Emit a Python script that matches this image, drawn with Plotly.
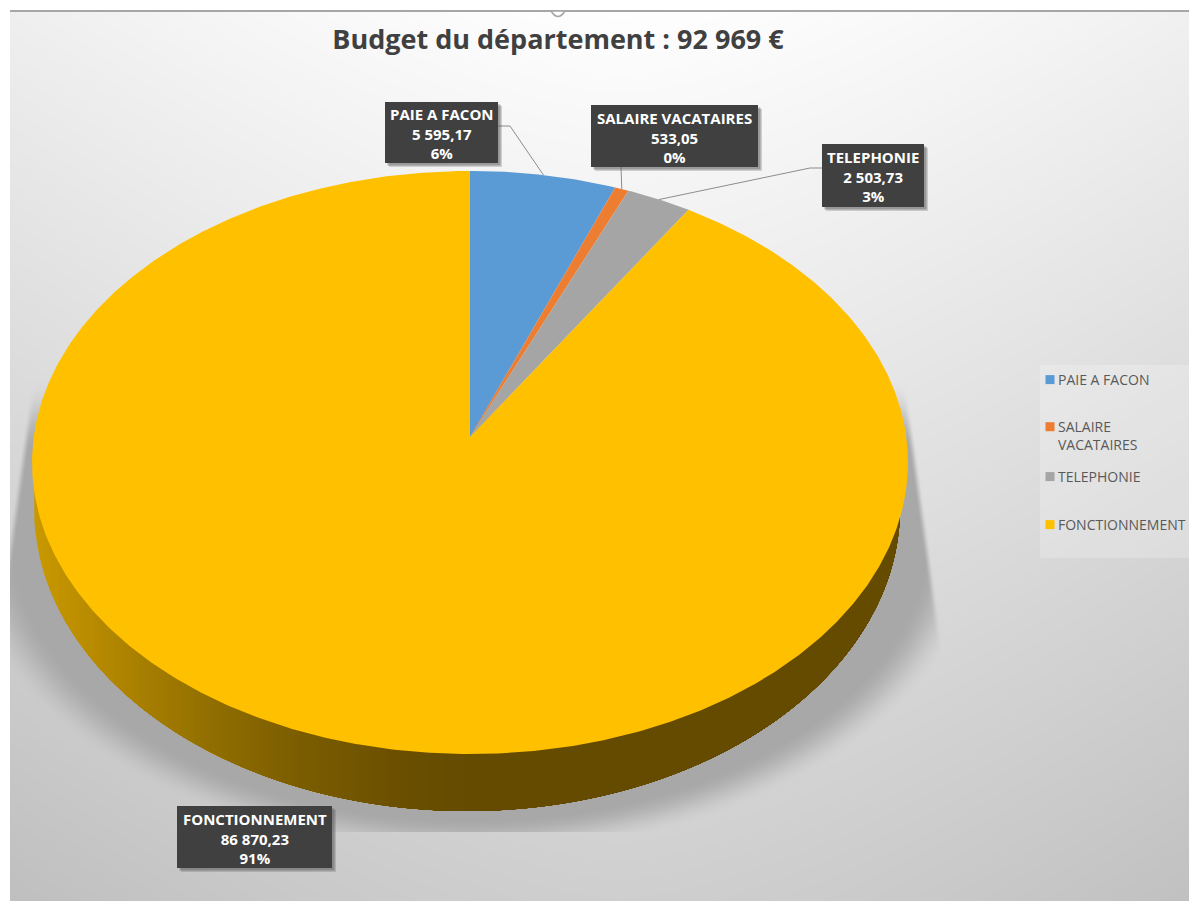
import numpy as np
import plotly.graph_objects as go

# ---------- data ----------
categories = ["PAIE A FACON", "SALAIRE VACATAIRES", "TELEPHONIE", "FONCTIONNEMENT"]
legend_names = ["PAIE A FACON", "SALAIRE<br>VACATAIRES", "TELEPHONIE", "FONCTIONNEMENT"]
values = [5595.17, 533.05, 2503.73, 86870.23]
percent_labels = ["6%", "0%", "3%", "91%"]
colors = ["#5B9BD5", "#ED7D31", "#A5A5A5", "#FFC000"]
title_text = "Budget du département : 92 969 €"

W, H = 1189, 901

# ---------- perspective disc geometry (pixel-unit axes) ----------
CX, CY, A, B, K = 470.0, 437.0, 436.3, 289.3, 0.0875


def rim(theta):
    u, v = np.sin(theta), np.cos(theta)
    w = 1 + K * v
    return CX + A * u / w, CY - B * v / w


def wedge(t0, t1):
    t = np.linspace(t0, t1, max(int((t1 - t0) * 120), 8))
    x, y = rim(t)
    return np.r_[CX, x, CX], np.r_[CY, y, CY]


fractions = np.array(values) / np.sum(values)
edges = np.r_[0, np.cumsum(fractions)] * 2 * np.pi


def fmt(v):
    s = f"{v:,.2f}".replace(",", " ").replace(".", ",")
    return s


# ---------- background raster ----------
yy, xx = np.mgrid[0:H, 0:W] + 0.5


def smooth(a, b, t):
    s = np.clip((t - a) / (b - a), 0, 1)
    return s * s * (3 - 2 * s)


bg = 255 - 47 * yy / 880 - 15 * (np.abs(xx - 620) / 600) ** 1.5
e = np.sqrt(((xx - 470) / 490) ** 2 + ((yy - 530) / 310) ** 2)
alpha = smooth(1.05, 0.93, e)
alpha = alpha * smooth(-4, 4, xx - (33 - (yy - 390) * 0.138))
alpha = alpha * smooth(-4, 4, (917 + (yy - 480) * 0.138) - xx)
alpha = alpha * smooth(375, 450, yy) * (yy < 832)
bg = bg * (1 - alpha) + 168 * alpha
bg[(yy < 11) | (xx < 10)] = 255
bg = np.clip(bg, 0, 255).astype(np.uint8)

fig = go.Figure()
fig.add_trace(go.Heatmap(
    z=bg, x0=0.5, dx=1, y0=0.5, dy=1, zmin=0, zmax=255,
    colorscale=[[0, "#000000"], [1, "#ffffff"]], showscale=False, hoverinfo="skip",
    zsmooth=False,
))

# ---------- side wall ----------
WX, WY, WRX, WRY = 467.0, 508.0, 433.0, 303.0
wall_x = [34, 100, 200, 300, 400, 470]
wall_c = [(201, 152, 0), (180, 136, 0), (147, 112, 0), (122, 92, 0), (106, 79, 0), (100, 75, 0)]


def wall_poly(x_from):
    x_from = max(x_from, WX - WRX)
    t_start = np.arccos(np.clip((x_from - WX) / WRX, -1, 1))
    t = np.linspace(t_start, 0, 160)
    x = WX + WRX * np.cos(t)
    y = WY + WRY * np.sin(t)
    return np.r_[x_from, x, WX + WRX, x_from], np.r_[WY - 60, y, WY - 60, WY - 60]


xs = np.arange(wall_x[0], 478, 5)
for xv in xs:
    rgb = [np.interp(xv, wall_x, [c[i] for c in wall_c]) for i in range(3)]
    px, py = wall_poly(float(xv))
    fig.add_trace(go.Scatter(
        x=px, y=py, mode="lines", line=dict(width=0), fill="toself",
        fillcolor=f"rgb({rgb[0]:.0f},{rgb[1]:.0f},{rgb[2]:.0f})",
        showlegend=False, hoverinfo="skip",
    ))

# ---------- top face ----------
for i, name in enumerate(categories):
    px, py = wedge(edges[i], edges[i + 1])
    fig.add_trace(go.Scatter(
        x=px, y=py, mode="lines", line=dict(width=0), fill="toself",
        fillcolor=colors[i], name=name, showlegend=False, hoverinfo="text",
        text=f"{name}: {fmt(values[i])} ({percent_labels[i]})", legendgroup=name,
    ))

# ---------- leader lines ----------
mids = (edges[:-1] + edges[1:]) / 2
leader_from = [[(498, 126), (510, 126)], [(621, 167)], [(822, 168), (810, 168)], None]
for i, pts in enumerate(leader_from):
    if pts is None:
        continue
    mx, my = rim(mids[i])
    fig.add_trace(go.Scatter(
        x=[p[0] for p in pts] + [float(mx)], y=[p[1] for p in pts] + [float(my)],
        mode="lines", line=dict(color="#8c8c8c", width=1),
        showlegend=False, hoverinfo="skip",
    ))

# ---------- legend ----------
for i, name in enumerate(legend_names):
    fig.add_trace(go.Scatter(
        x=[None], y=[None], mode="markers", name=name, legendgroup=categories[i],
        marker=dict(symbol="square", size=9, color=colors[i]),
    ))

# ---------- data labels ----------
boxes = [(385, 498, 102, 163), (591, 758, 105, 167), (822, 924, 144, 207), (177, 332, 806, 868)]
shapes = [
    dict(type="rect", xref="x", yref="y", x0=1040, x1=1189, y0=365, y1=558,
         fillcolor="rgba(255,255,255,0.22)", line=dict(width=0), layer="above"),
    dict(type="line", xref="x", yref="y", x0=10, x1=1189, y0=11, y1=11,
         line=dict(color="#a6a6a6", width=2), layer="above"),
    dict(type="path", xref="x", yref="y", path="M 551 11 Q 558 22 565 11 Z",
         fillcolor="#ffffff", line=dict(color="#a6a6a6", width=1.5), layer="above"),
]
annotations = []
for i, (x0, x1, y0, y1) in enumerate(boxes):
    for off, col in ((4, "rgba(90,90,90,0.25)"), (2.5, "rgba(90,90,90,0.45)")):
        shapes.append(dict(type="rect", xref="x", yref="y", x0=x0 + off, x1=x1 + off,
                           y0=y0 + off, y1=y1 + off, fillcolor=col, line=dict(width=0), layer="above"))
    shapes.append(dict(type="rect", xref="x", yref="y", x0=x0, x1=x1, y0=y0, y1=y1,
                       fillcolor="#404040", line=dict(width=0), layer="above"))
    annotations.append(dict(
        x=(x0 + x1) / 2, y=(y0 + y1) / 2 + 1, xref="x", yref="y", showarrow=False,
        text=f"<b>{categories[i]}<br>{fmt(values[i])}<br>{percent_labels[i]}</b>",
        font=dict(family="Open Sans", size=15, color="#ffffff"), align="center",
    ))

fig.update_layout(
    width=W, height=H, margin=dict(l=0, r=0, t=0, b=0, autoexpand=False),
    paper_bgcolor="#ffffff", plot_bgcolor="#ffffff",
    title=dict(text=f"<b>{title_text}</b>", x=558 / W, xanchor="center", y=1 - 39.5 / H, yanchor="middle",
               font=dict(family="Open Sans", size=27, color="#404040")),
    xaxis=dict(range=[0, W], visible=False, fixedrange=True),
    yaxis=dict(range=[H, 0], visible=False, fixedrange=True),
    legend=dict(x=1018 / W, y=1 - 360 / H, xanchor="left", yanchor="top", bgcolor="rgba(0,0,0,0)",
                font=dict(family="Open Sans", size=14, color="#595959"), tracegroupgap=28,
                itemclick=False, itemdoubleclick=False),
    shapes=shapes, annotations=annotations, showlegend=True,
)

# Legend rows in the reference are unevenly spaced and its swatches sit close to the text.
post = """
document.body.style.margin='0';document.body.style.overflow='hidden';
var tops=[369,416,466,514];
document.querySelectorAll('.legend .groups').forEach(function(g,i){
  var m=/translate\\(([-\\d.]+),\\s*([-\\d.]+)\\)/.exec(g.getAttribute('transform')||'translate(0,0)');
  var r=g.getBoundingClientRect();
  g.setAttribute('transform','translate('+m[1]+','+(parseFloat(m[2])+tops[i]-r.top)+')');
});
document.querySelectorAll('.legend .legendsymbols').forEach(function(s,i){s.setAttribute('transform','translate(12,'+(i==1?-9:0)+')');});
"""
fig.write_html("out.html", post_script=post, config={"displayModeBar": False})
